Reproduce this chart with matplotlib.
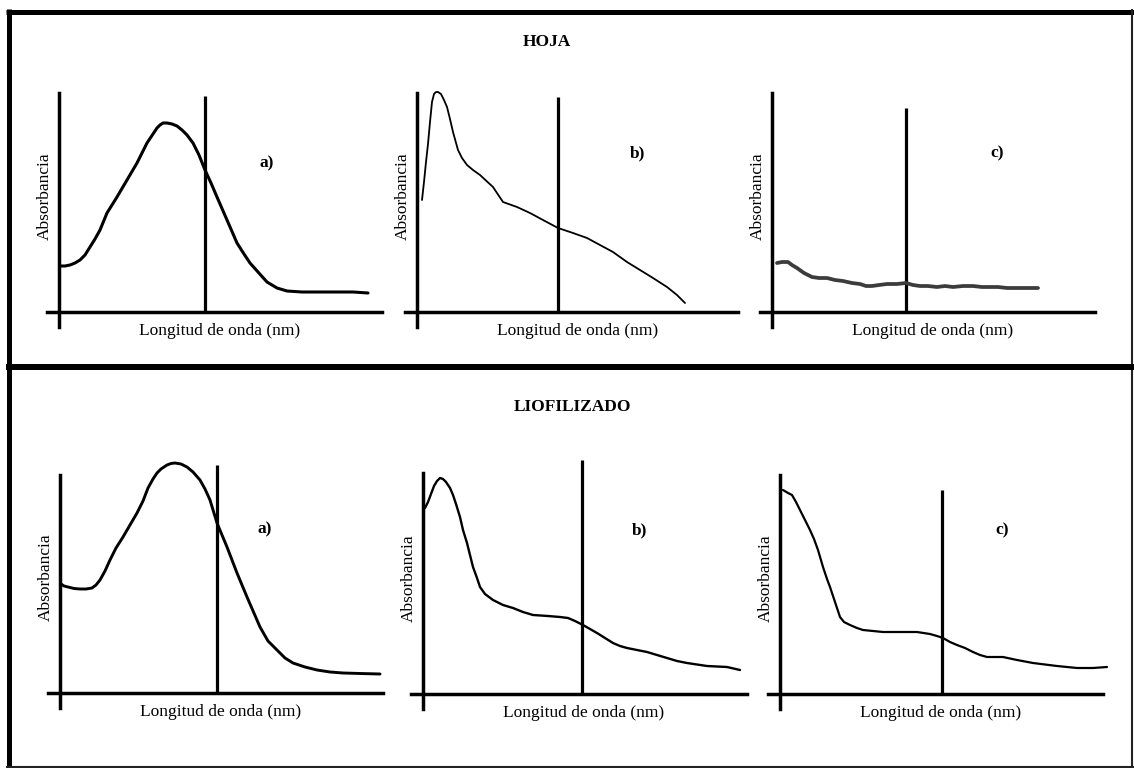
import matplotlib.pyplot as plt

plt.rcParams['font.family'] = ['Liberation Serif', 'DejaVu Serif']

W, H = 1134, 768

# Spectra, one per panel: (wavelength, absorbance) in arbitrary units
hoja_a_x = [1, 6, 11, 16, 21, 26, 31, 36, 41, 48, 58, 68, 78, 88, 94, 98, 101, 104,
            108, 113, 118, 123, 128, 134, 140, 146, 152, 158, 168, 178, 185, 191,
            199, 208, 218, 228, 243, 258, 294, 309]
hoja_a_y = [46, 46, 47, 49, 52, 57, 65, 73, 82, 99, 115, 132, 149, 169, 178, 184, 187,
            189, 189, 188, 186, 182, 177, 169, 157, 142, 129, 115, 92, 69, 58, 49,
            40, 30, 24, 21, 20, 20, 20, 19]

hoja_b_x = [5, 7, 9, 11, 13, 15, 17, 19, 21, 24, 27, 30, 33, 36, 41, 45, 50, 56, 63,
            76, 86, 100, 113, 126, 141, 156, 170, 183, 196, 210, 223, 236, 250, 260,
            268]
hoja_b_y = [112, 130, 150, 168, 190, 210, 218, 220, 220, 218, 212, 205, 193, 180, 162,
            154, 147, 142, 137, 125, 110, 105, 99, 92, 84, 79, 74, 67, 60, 50, 42, 34,
            25, 17, 9]

hoja_c_x = [5, 10, 16, 20, 25, 32, 40, 47, 55, 63, 71, 80, 88, 94, 100, 107, 115, 125,
            134, 141, 148, 156, 165, 173, 181, 191, 201, 210, 218, 226, 235, 245, 255,
            266]
hoja_c_y = [49, 50, 50, 47, 44, 39, 35, 34, 34, 32, 31, 29, 28, 26, 26, 27, 28, 28,
            29, 27, 26, 26, 25, 26, 25, 26, 26, 25, 25, 25, 24, 24, 24, 24]

liof_a_x = [1, 4, 8, 14, 20, 26, 32, 36, 40, 45, 50, 56, 63, 70, 77, 83, 88, 93, 97,
            101, 107, 111, 115, 121, 127, 133, 140, 145, 150, 157, 167, 177, 187, 200,
            208, 217, 225, 233, 245, 257, 270, 283, 300, 320]
liof_a_y = [109, 107, 106, 104.5, 104, 104, 105, 108, 113, 122, 133, 145, 156, 168, 180,
            192, 205, 214, 220, 224, 228, 229.5, 230, 229, 226, 221, 213, 204, 193,
            170, 146, 120, 96, 66, 52, 43, 35, 30, 26, 23, 21, 20, 19.5, 19]

liof_b_x = [2, 5, 8, 11, 14, 17, 20, 23, 27, 30, 33, 37, 40, 44, 47, 50, 54, 57, 62,
            70, 80, 90, 100, 110, 125, 137, 145, 152, 160, 167, 174, 182, 190, 197,
            204, 214, 224, 234, 244, 254, 264, 284, 304, 317]
liof_b_y = [186, 192, 200, 208, 213, 216, 215, 212, 206, 199, 190, 177, 164, 151, 139,
            127, 116, 107, 100, 94, 89, 86, 82, 79, 78, 77, 76, 73, 69, 65, 61, 56, 51,
            48, 46, 44, 42, 39, 36, 33, 31, 28, 27, 24]

liof_c_x = [3, 8, 12, 16, 20, 25, 30, 34, 38, 43, 47, 50, 55, 60, 64, 70, 77, 83, 93,
            103, 113, 123, 137, 150, 157, 163, 170, 177, 185, 193, 200, 207, 215, 223,
            230, 237, 253, 277, 297, 313, 327]
liof_c_y = [204, 201, 199, 192, 184, 174, 164, 155, 144, 127, 115, 107, 92, 77, 72, 69,
            66, 64, 63, 62, 62, 62, 62, 60, 58, 56, 52, 49, 46, 42, 39, 37, 37, 37,
            35.5, 34, 31, 28, 26, 26, 27]

curves_x = [hoja_a_x, hoja_b_x, hoja_c_x, liof_a_x, liof_b_x, liof_c_x]
curves_y = [hoja_a_y, hoja_b_y, hoja_c_y, liof_a_y, liof_b_y, liof_c_y]
letters = ['a)', 'b)', 'c)', 'a)', 'b)', 'c)']
sections = ['HOJA', 'LIOFILIZADO']

# wavelength of the reference line and how high it is drawn
marker_x = [146, 141, 134, 157, 159, 162]
marker_top = [216, 215, 204, 228, 234, 204]

# axis extents per panel
y_top = [219, 219, 219, 218, 221, 219]
x_right = [323, 321, 323, 323, 324, 323]
letter_pos = [(208, 149), (221, 159), (225, 159), (205, 164), (217, 164), (222, 164)]

# panel origins in pixels and line styles
origins = [(59, 312), (417, 312), (772, 312), (60, 693), (423, 694), (780, 694)]
curve_lw = [2.2, 1.3, 2.7, 2.1, 1.7, 1.6]
curve_col = ['black', 'black', '#3c3c3c', 'black', 'black', 'black']

fig = plt.figure(figsize=(W / 100, H / 100), dpi=100)
fig.patch.set_facecolor('white')

# frame around the two blocks
frame = fig.add_axes([0, 0, 1, 1])
frame.set_xlim(0, W)
frame.set_ylim(H, 0)
frame.axis('off')
frame.plot([6, W], [11.5, 11.5], color='black', lw=3.6, solid_capstyle='butt')
frame.plot([8.5, 8.5], [9, H], color='black', lw=3.6, solid_capstyle='butt')
frame.plot([1132, 1132], [9, H], color='#222222', lw=1.5, solid_capstyle='butt')
frame.plot([6, W], [367, 367], color='black', lw=4.3, solid_capstyle='butt')
frame.plot([6, W], [767, 767], color='#222222', lw=1.5, solid_capstyle='butt')
frame.text(547, 42, sections[0], ha='center', va='center', fontsize=12.5,
           fontweight='bold')
frame.text(572, 407, sections[1], ha='center', va='center', fontsize=12.5,
           fontweight='bold')

for i in range(6):
    ox, oy = origins[i]
    ax = fig.add_axes([(ox - 30) / W, (H - (oy + 40)) / H, 370 / W, 280 / H])
    ax.set_xlim(-30, 340)
    ax.set_ylim(-40, 240)
    ax.patch.set_visible(False)
    ax.set_xticks([])
    ax.set_yticks([])
    ax.spines['top'].set_visible(False)
    ax.spines['right'].set_visible(False)
    ax.spines['left'].set_position(('data', 0))
    ax.spines['bottom'].set_position(('data', 0))
    ax.spines['left'].set_bounds(-15, y_top[i])
    ax.spines['bottom'].set_bounds(-12, x_right[i])
    for s in ['left', 'bottom']:
        ax.spines[s].set_linewidth(2.5)

    ax.vlines(marker_x[i], 0, marker_top[i], color='black', lw=2.3)
    ax.plot(curves_x[i], curves_y[i], color=curve_col[i], lw=curve_lw[i],
            clip_on=False, solid_joinstyle='round', solid_capstyle='round')

    ax.text(letter_pos[i][0], letter_pos[i][1], letters[i], ha='center',
            va='center', fontsize=12.5, fontweight='bold')
    ax.text(161, -19, 'Longitud de onda (nm)', ha='center', va='center',
            fontsize=12.5)
    ax.text(-14, 116, 'Absorbancia', ha='center', va='center', rotation=90,
            fontsize=12.5)

fig.savefig('out.png', dpi=100, facecolor='white')
